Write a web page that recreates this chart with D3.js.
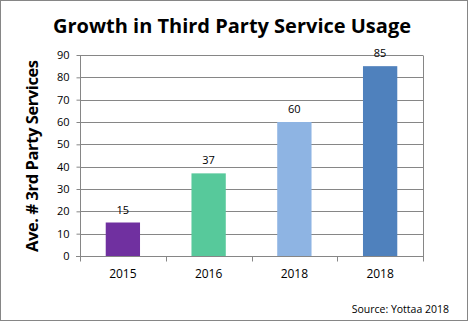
<!DOCTYPE html>
<html>
<head>
<meta charset="utf-8">
<script src="https://cdn.jsdelivr.net/npm/d3@7/dist/d3.min.js"></script>
<style>
  body { margin: 0; background: #fff; }
  svg { display: block; }
</style>
</head>
<body>
<div id="chart"></div>
<script>
// chart data
var years = ["2015", "2016", "2018", "2018"];
var services = [15, 37, 60, 85];
var barColours = ["#7030a0", "#57c99b", "#8eb4e3", "#4f81bd"];
var yTicks = [0, 10, 20, 30, 40, 50, 60, 70, 80, 90];

var W = 468, H = 321;
var margin = {top: 55, right: 45, bottom: 65, left: 80},
    width = 423 - margin.left,
    height = 256 - margin.top;

var svg = d3.select("#chart").append("svg")
    .attr("width", W)
    .attr("height", H);

// outer frame
svg.append("rect")
    .attr("x", 0.5).attr("y", 0.5)
    .attr("width", W - 1).attr("height", H - 1)
    .attr("fill", "#fff")
    .attr("stroke", "#868686");

svg.append("text")
    .attr("x", 232)
    .attr("y", 33)
    .attr("text-anchor", "middle")
    .attr("font-family", "'Open Sans', sans-serif")
    .attr("font-weight", "bold")
    .attr("font-size", "20px")
    .attr("textLength", 358)
    .attr("fill", "#000")
    .text("Growth in Third Party Service Usage");

var g = svg.append("g")
    .attr("transform", "translate(" + margin.left + "," + margin.top + ")");

var xScale = d3.scaleBand()
    .domain(d3.range(years.length))
    .range([0, width])
    .paddingInner(0.6)
    .paddingOuter(0.3);

var yScale = d3.scaleLinear()
    .domain([0, 90])
    .range([height, 0]);

// gridlines
g.selectAll(".grid")
    .data(yTicks.slice(1))
    .enter().append("line")
    .attr("x1", 0).attr("x2", width)
    .attr("y1", d => Math.round(yScale(d)) + 0.5)
    .attr("y2", d => Math.round(yScale(d)) + 0.5)
    .attr("stroke", "#868686");

// plot area right edge
g.append("line")
    .attr("x1", width + 0.5).attr("x2", width + 0.5)
    .attr("y1", Math.round(yScale(90)) + 0.5).attr("y2", height)
    .attr("stroke", "#868686");

// bars
g.selectAll(".bar")
    .data(services)
    .enter().append("rect")
    .attr("class", "bar")
    .attr("x", (d, i) => xScale(i))
    .attr("width", xScale.bandwidth())
    .attr("y", d => yScale(d))
    .attr("height", d => height - yScale(d))
    .attr("fill", (d, i) => barColours[i]);

// value labels
g.selectAll(".val")
    .data(services)
    .enter().append("text")
    .attr("x", (d, i) => xScale(i) + xScale.bandwidth() / 2)
    .attr("y", d => yScale(d) - 9)
    .attr("text-anchor", "middle")
    .attr("font-family", "'Open Sans', sans-serif")
    .attr("font-size", "11px")
    .attr("fill", "#000")
    .text(d => d);

// y axis
var yAxis = g.append("g")
    .attr("transform", "translate(0.5,0)")
    .call(d3.axisLeft(yScale).tickValues(yTicks).tickSize(4).tickPadding(7));
yAxis.select(".domain").attr("stroke", "#868686").attr("d", "M0," + yScale(90) + "V" + height);
yAxis.selectAll(".tick line").attr("stroke", "#868686");
yAxis.selectAll(".tick text")
    .attr("font-family", "'Open Sans', sans-serif")
    .attr("font-size", "11px")
    .attr("fill", "#000");

// x axis with category boundary ticks
var xAxisG = g.append("g").attr("transform", "translate(0," + (height + 0.5) + ")");
xAxisG.append("line")
    .attr("x1", -4).attr("x2", width + 1)
    .attr("stroke", "#868686");
var step = width / years.length;
xAxisG.selectAll(".xt")
    .data(d3.range(years.length + 1))
    .enter().append("line")
    .attr("x1", d => Math.round(d * step) + 0.5)
    .attr("x2", d => Math.round(d * step) + 0.5)
    .attr("y1", 0).attr("y2", 5)
    .attr("stroke", "#868686");
xAxisG.selectAll(".xl")
    .data(years)
    .enter().append("text")
    .attr("x", (d, i) => xScale(i) + xScale.bandwidth() / 2)
    .attr("y", 21)
    .attr("text-anchor", "middle")
    .attr("font-family", "'Open Sans', sans-serif")
    .attr("font-size", "12px")
    .attr("fill", "#000")
    .text(d => d);

// y axis title
svg.append("text")
    .attr("transform", "translate(38,156) rotate(-90)")
    .attr("text-anchor", "middle")
    .attr("font-family", "'Open Sans', sans-serif")
    .attr("font-weight", "bold")
    .attr("font-size", "16.5px")
    .attr("textLength", 192)
    .attr("fill", "#000")
    .text("Ave. # 3rd Party Services");

svg.append("text")
    .attr("x", 449)
    .attr("y", 313)
    .attr("text-anchor", "end")
    .attr("font-family", "'Open Sans', sans-serif")
    .attr("font-size", "10.5px")
    .attr("fill", "#000")
    .text("Source: Yottaa 2018");
</script>
</body>
</html>
